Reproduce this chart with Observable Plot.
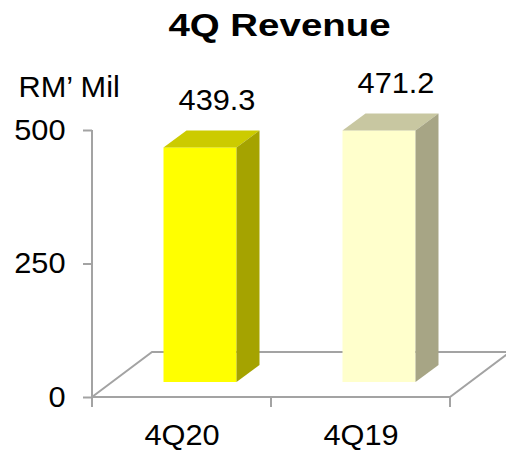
<!DOCTYPE html>
<html>
<head>
<meta charset="utf-8">
<script src="https://cdn.jsdelivr.net/npm/d3@7"></script>
<script src="https://cdn.jsdelivr.net/npm/@observablehq/plot@0.6"></script>
<style>
  html, body { margin: 0; padding: 0; background: #fff; }
</style>
</head>
<body>
<div id="chart"></div>
<script>
// ---- data ----
const quarters = ["4Q20", "4Q19"];
const revenue = [439.3, 471.2];
const yTicks = [0, 250, 500];
const titleText = "4Q Revenue";
const unitText = "RM’ Mil";

const data = quarters.map((q, i) => ({quarter: q, revenue: revenue[i]}));

// ---- styles ----
const faceColors = {
  "4Q20": {front: "#ffff00", top: "#cccb00", side: "#a5a300"},
  "4Q19": {front: "#ffffcc", top: "#c8c7a1", side: "#a7a585"}
};
const gridColor = "#a3a3a3";
const barDepth = {dx: 23, dy: -17};
const floorDepth = {dx: 60, dy: -45};
const fontSize = 29;
const titleSize = 31;
const textStretch = 1.06;
const titleStretch = 1.24;
const SVGNS = "http://www.w3.org/2000/svg";

function poly(points, fill) {
  const p = document.createElementNS(SVGNS, "polygon");
  p.setAttribute("points", points.map(d => d.join(",")).join(" "));
  p.setAttribute("fill", fill);
  p.setAttribute("stroke", "none");
  return p;
}

function floorRender(index, scales, values, dimensions) {
  const {x, y} = scales;
  const x0 = dimensions.marginLeft;
  const x1 = dimensions.width - dimensions.marginRight;
  const y0 = y(0);
  const yTop = y(d3.max(yTicks));
  const {dx, dy} = floorDepth;
  const g = d3.create("svg:g")
    .attr("fill", "none")
    .attr("stroke", gridColor)
    .attr("stroke-width", 2);
  g.append("path").attr("d",
    `M${x0},${y0}L${x1},${y0}L${x1 + dx},${y0 + dy}` +
    `M${x0},${y0}L${x0 + dx},${y0 + dy}L${x1 + dx},${y0 + dy}`);
  g.append("path").attr("d", `M${x0},${yTop}L${x0},${y0}`);
  const edges = quarters.map(q => x(q)).concat([x1]);
  edges.forEach(xe => g.append("path").attr("d", `M${xe},${y0}L${xe},${y0 + 10}`));
  return g.node();
}

function bar3d(index, scales, values, dimensions, context, next) {
  const g = next(index, scales, values, dimensions, context);
  const rects = Array.from(g.querySelectorAll("rect"));
  rects.forEach((r, k) => {
    const d = data[index[k]];
    const c = faceColors[d.quarter];
    const x = +r.getAttribute("x"), y = +r.getAttribute("y");
    const w = +r.getAttribute("width"), h = +r.getAttribute("height");
    const {dx, dy} = barDepth;
    g.appendChild(poly([[x, y], [x + dx, y + dy], [x + w + dx, y + dy], [x + w, y]], c.top));
    g.appendChild(poly([[x + w, y], [x + w + dx, y + dy], [x + w + dx, y + h + dy], [x + w, y + h]], c.side));
  });
  return g;
}

const plot = Plot.plot({
  width: 506,
  height: 452,
  marginLeft: 92,
  marginRight: 56,
  marginTop: 130,
  marginBottom: 55,
  style: {
    fontFamily: "'Liberation Sans', Arial, sans-serif",
    fontSize: fontSize + "px",
    color: "#000",
    background: "#fff",
    overflow: "visible"
  },
  x: {domain: quarters, padding: 0, label: null},
  y: {domain: [0, 500], label: null},
  marks: [
    Plot.ruleY([0], {render: floorRender}),
    Plot.axisY({ticks: yTicks, tickSize: 9, tickPadding: 18, stroke: gridColor, strokeWidth: 2, label: null, fontSize}),
    Plot.axisX({tickSize: 0, tickPadding: 27, label: null, fontSize}),
    Plot.barY(data, {
      x: "quarter", y: "revenue",
      fill: d => faceColors[d.quarter].front,
      insetLeft: 53, insetRight: 53, dx: 18.5, dy: -15,
      render: bar3d
    }),
    Plot.text(data, {x: "quarter", y: "revenue", text: d => d.revenue.toFixed(1), dx: 35, dy: -53, lineAnchor: "bottom", fontSize, fill: "#000"}),
    Plot.text([unitText], {frameAnchor: "top-left", dx: -74, dy: -34, textAnchor: "start", lineAnchor: "bottom", fontSize, fill: "#000"}),
    Plot.text([titleText], {frameAnchor: "top", dx: 8, dy: -95, lineAnchor: "bottom", fontSize: titleSize, fontWeight: "bold", fill: "#000"})
  ]
});

document.getElementById("chart").appendChild(plot);

// horizontal stretch of the text to match the reference's wide lettering
plot.querySelectorAll("text").forEach(t => {
  const len = t.getComputedTextLength();
  if (!len) return;
  const f = t.textContent === titleText ? titleStretch : textStretch;
  t.setAttribute("textLength", (len * f).toFixed(1));
  t.setAttribute("lengthAdjust", "spacingAndGlyphs");
});
</script>
</body>
</html>
